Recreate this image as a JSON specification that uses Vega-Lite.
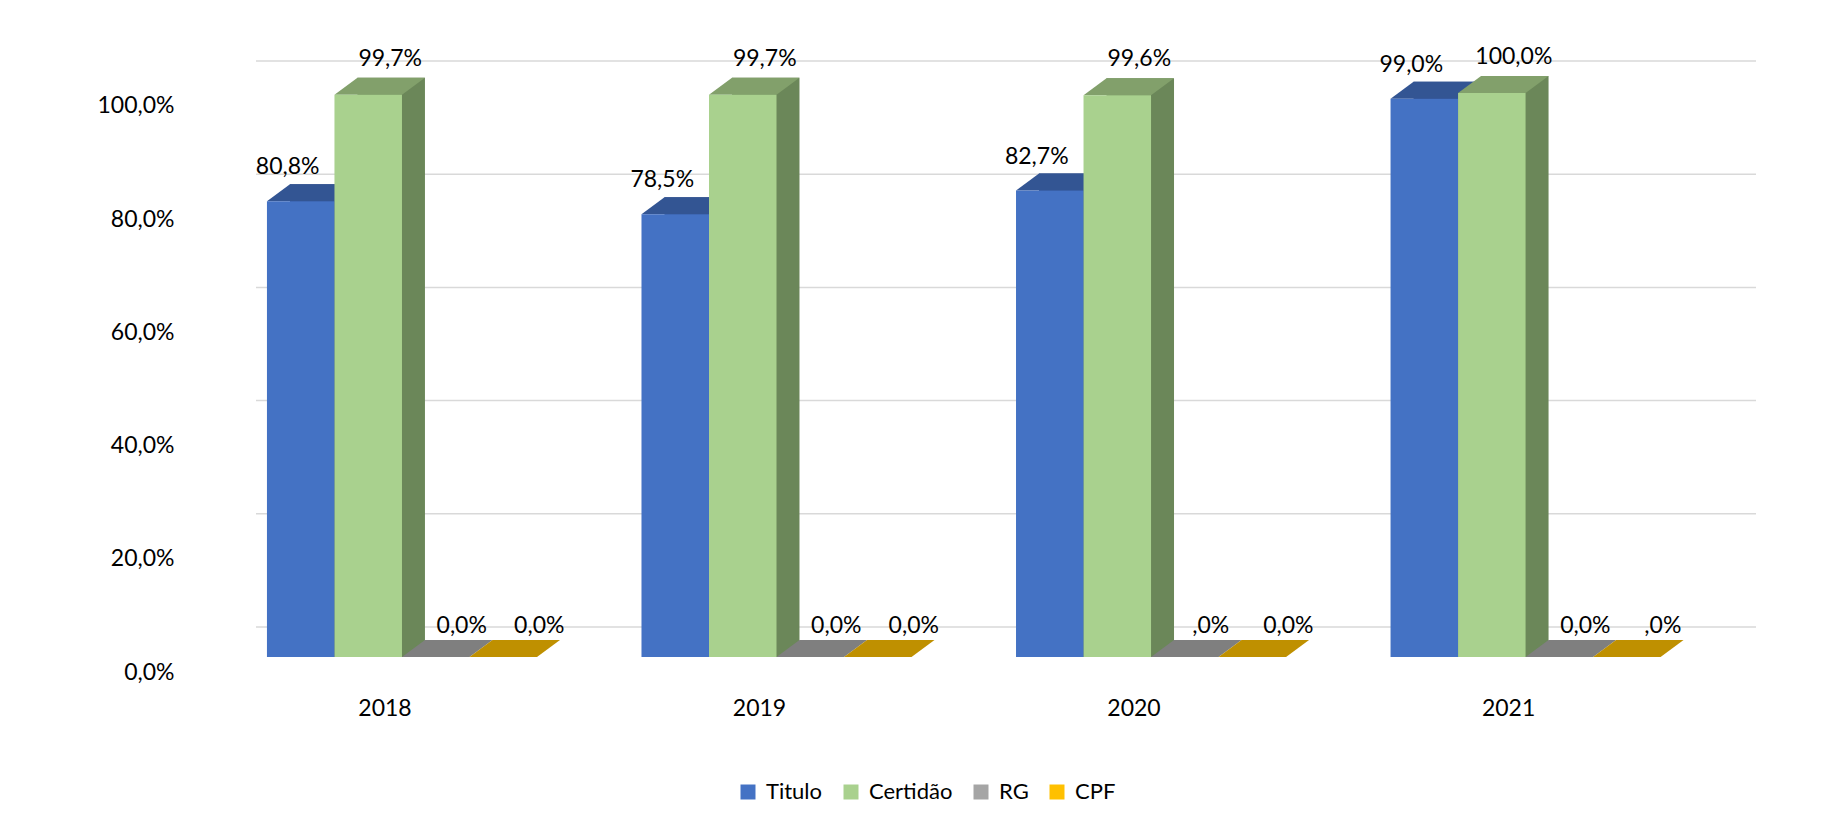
{
  "$schema": "https://vega.github.io/schema/vega-lite/v6.json",
  "width": 1500,
  "height": 650,
  "autosize": {"type": "none"},
  "padding": {"left": 256, "top": 40, "right": 66, "bottom": 137},
  "background": "white",
  "config": {"font": "Lato", "view": {"stroke": null}},
  "layer": [
    {
      "data": {"values": [{"v": 0}, {"v": 20}, {"v": 40}, {"v": 60}, {"v": 80}, {"v": 100}]},
      "mark": {"type": "rule", "color": "#D9D9D9", "strokeWidth": 1.5},
      "encoding": {
        "y": {
          "field": "v", "type": "quantitative",
          "scale": {"domain": [-11.13, 103.71], "nice": false, "zero": false},
          "axis": {
            "values": [0, 20, 40, 60, 80, 100],
            "labelExpr": "replace(format(datum.value, '.1f'), '.', ',') + '%'",
            "domain": false, "ticks": false, "tickSize": 0, "grid": false,
            "labelOffset": 45, "labelPadding": 82, "labelFontSize": 23,
            "labelColor": "#000000", "labelOverlap": false, "labelFlush": false, "title": null
          }
        }
      }
    },
    {
      "data": {"values": [
        {"year": "2018", "series": "Titulo", "value": 80.8, "label": "80,8%"},
        {"year": "2018", "series": "Certidão", "value": 99.7, "label": "99,7%"},
        {"year": "2018", "series": "RG", "value": 0.0, "label": "0,0%"},
        {"year": "2018", "series": "CPF", "value": 0.0, "label": "0,0%"},
        {"year": "2019", "series": "Titulo", "value": 78.5, "label": "78,5%"},
        {"year": "2019", "series": "Certidão", "value": 99.7, "label": "99,7%"},
        {"year": "2019", "series": "RG", "value": 0.0, "label": "0,0%"},
        {"year": "2019", "series": "CPF", "value": 0.0, "label": "0,0%"},
        {"year": "2020", "series": "Titulo", "value": 82.7, "label": "82,7%"},
        {"year": "2020", "series": "Certidão", "value": 99.6, "label": "99,6%"},
        {"year": "2020", "series": "RG", "value": 0.0, "label": ",0%"},
        {"year": "2020", "series": "CPF", "value": 0.0, "label": "0,0%"},
        {"year": "2021", "series": "Titulo", "value": 99.0, "label": "99,0%"},
        {"year": "2021", "series": "Certidão", "value": 100.0, "label": "100,0%"},
        {"year": "2021", "series": "RG", "value": 0.0, "label": "0,0%"},
        {"year": "2021", "series": "CPF", "value": 0.0, "label": ",0%"}
      ]},
      "encoding": {
        "x": {
          "field": "year", "type": "nominal",
          "scale": {"paddingInner": 0.279, "paddingOuter": 0.142, "align": 0.103},
          "axis": {"title": null, "domain": false, "ticks": false, "labelFontSize": 23, "labelOffset": -17, "labelPadding": 7, "labelColor": "#000000", "labelAngle": 0}
        },
        "xOffset": {"field": "series", "type": "nominal", "sort": ["Titulo", "Certidão", "RG", "CPF"], "scale": {"domain": ["Titulo", "Certidão", "RG", "CPF"]}},
        "y": {
          "field": "value", "type": "quantitative",
          "scale": {"domain": [-5.85, 109.4], "nice": false, "zero": false},
          "axis": null
        }
      },
      "layer": [
        {
          "transform": [{"filter": "datum.value > 0"}],
          "mark": {"type": "bar", "yOffset": -17, "y2Offset": 0},
          "encoding": {
            "y2": {"datum": 0},
            "xOffset": {"field": "series", "type": "nominal", "sort": ["Titulo", "Certidão", "RG", "CPF"], "scale": {"domain": ["Titulo", "Certidão", "RG", "CPF"], "range": [23, 293]}},
            "fill": {"field": "series", "type": "nominal", "scale": {"domain": ["Titulo", "Certidão", "RG", "CPF"], "range": ["#2B4A84", "#6B8759", "#6E6E6E", "#A67C00"]}, "legend": null}
          }
        },
        {
          "mark": {"type": "point", "shape": "M -1 0 L 1 0 L 1.681 -0.504 L -0.319 -0.504 Z", "size": 4556, "filled": true, "opacity": 1, "strokeWidth": 0},
          "encoding": {
            "fill": {"field": "series", "type": "nominal", "scale": {"domain": ["Titulo", "Certidão", "RG", "CPF"], "range": ["#335593", "#82A06B", "#7F7F7F", "#BF9000"]}, "legend": null}
          }
        },
        {
          "mark": {"type": "bar"},
          "encoding": {
            "color": {
              "field": "series", "type": "nominal",
              "scale": {"domain": ["Titulo", "Certidão", "RG", "CPF"], "range": ["#4472C4", "#A9D18E", "#A5A5A5", "#FFC000"]},
              "legend": {"orient": "none", "legendX": 481, "legendY": 741, "direction": "horizontal", "title": null, "symbolType": "square", "symbolSize": 225, "symbolStrokeWidth": 0, "labelFontSize": 22, "labelColor": "#000000", "columnPadding": 17, "labelOffset": 7, "padding": 0}
            }
          }
        },
        {
          "transform": [{"filter": "datum.series === 'Titulo'"}],
          "mark": {"type": "text", "dx": -13, "dy": -34, "fontSize": 23, "baseline": "middle", "align": "center", "color": "#000000"},
          "encoding": {"text": {"field": "label"}}
        },
        {
          "transform": [{"filter": "datum.series === 'Certidão'"}],
          "mark": {"type": "text", "dx": 22, "dy": -36, "fontSize": 23, "baseline": "middle", "align": "center", "color": "#000000"},
          "encoding": {"text": {"field": "label"}}
        },
        {
          "transform": [{"filter": "datum.series === 'RG'"}],
          "mark": {"type": "text", "dx": 26, "dy": -31, "fontSize": 23, "baseline": "middle", "align": "center", "color": "#000000"},
          "encoding": {"text": {"field": "label"}}
        },
        {
          "transform": [{"filter": "datum.series === 'CPF'"}],
          "mark": {"type": "text", "dx": 36, "dy": -31, "fontSize": 23, "baseline": "middle", "align": "center", "color": "#000000"},
          "encoding": {"text": {"field": "label"}}
        }
      ],
      "resolve": {"scale": {"fill": "independent", "xOffset": "independent"}}
    }
  ],
  "resolve": {"scale": {"y": "independent"}}
}
